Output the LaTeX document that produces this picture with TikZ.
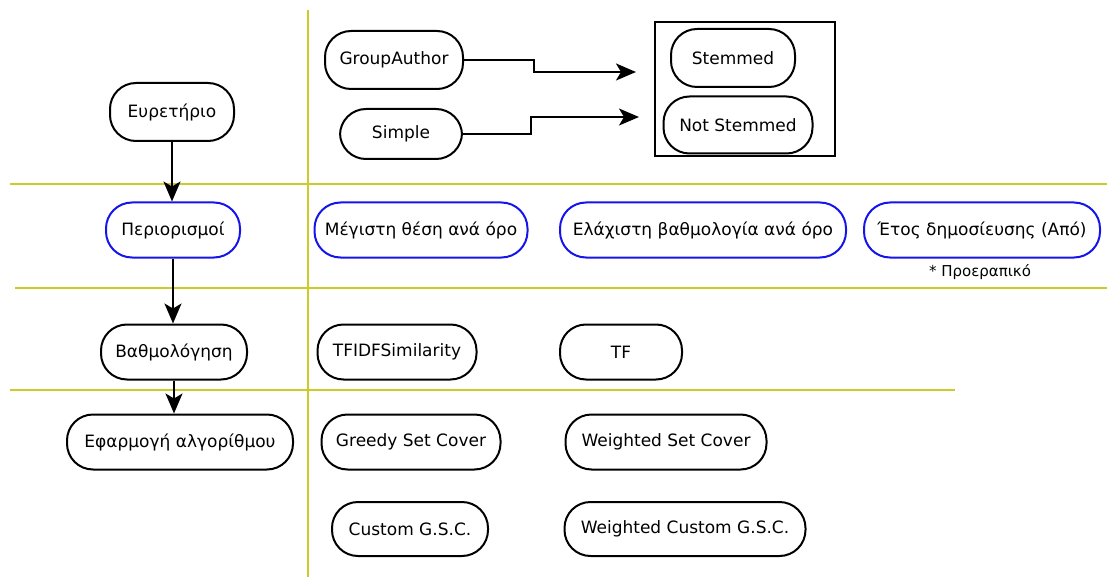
\documentclass[tikz,border=0pt]{standalone}
\usepackage{fontspec}
\setmainfont{DejaVu Sans}
\usetikzlibrary{arrows.meta}
\definecolor{lane}{RGB}{204,204,40}
\definecolor{blu}{RGB}{20,20,235}
\tikzset{
  pill/.style={draw=black, line width=2pt, rounded corners=26pt, fill=white,
    inner sep=0pt, font=\fontsize{17}{20}\selectfont},
  bpill/.style={pill, draw=blu},
  lanes/.style={draw=lane, line width=2.6pt},
  arr/.style={draw=black, line width=2pt, -{Stealth[length=20pt,width=17pt,inset=5pt]}},
  group/.style={draw=black, line width=2pt, inner sep=0pt},
  note/.style={font=\fontsize{15}{18}\selectfont, inner sep=0pt}
}
\begin{document}
\begin{tikzpicture}[x=1pt,y=-1pt]
\useasboundingbox (0,0) rectangle (1107,577);
% lanes
\coordinate (v1) at (308,10); \coordinate (v2) at (308,577);
\draw[lanes] (v1) -- (v2);
\coordinate (h1a) at (10,184); \coordinate (h1b) at (1107,184);
\coordinate (h2a) at (15,288); \coordinate (h2b) at (1107,288);
\coordinate (h3a) at (10,390); \coordinate (h3b) at (955,390);
\draw[lanes] (h1a) -- (h1b);
\draw[lanes] (h2a) -- (h2b);
\draw[lanes] (h3a) -- (h3b);
% left column
\node[pill, minimum width=124pt, minimum height=58pt] (eur) at (172,112) {Ευρετήριο};
\node[bpill, minimum width=134pt, minimum height=55pt] (per) at (173,230) {Περιορισμοί};
\node[pill, minimum width=146pt, minimum height=55pt] (vath) at (174,352) {Βαθμολόγηση};
\node[pill, minimum width=226pt, minimum height=55pt] (efar) at (180,442) {Εφαρμογή αλγορίθμου};
% top row
\node[pill, minimum width=138pt, minimum height=58pt] (ga) at (394,60) {GroupAuthor};
\node[pill, minimum width=122pt, minimum height=50pt] (simple) at (401,134) {Simple};
\node[group, minimum width=180pt, minimum height=134pt] (box) at (745,89) {};
\node[pill, minimum width=124pt, minimum height=58pt] (stem) at (733,58) {Stemmed};
\node[pill, minimum width=149pt, minimum height=57pt] (nstem) at (738,125) {Not Stemmed};
% restrictions
\node[bpill, minimum width=213pt, minimum height=55pt] (max) at (421,230) {Μέγιστη θέση ανά όρο};
\node[bpill, minimum width=286pt, minimum height=55pt] (min) at (703,230) {Ελάχιστη βαθμολογία ανά όρο};
\node[bpill, minimum width=236pt, minimum height=55pt] (etos) at (982,230) {Έτος δημοσίευσης (Από)};
\node[note] (opt) at (980,272) {* Προεραπικό};
% scoring
\node[pill, minimum width=159pt, minimum height=55pt] (tfidf) at (397,352) {TFIDFSimilarity};
\node[pill, minimum width=122pt, minimum height=55pt] (tf) at (621,352) {TF};
% algorithms
\node[pill, minimum width=179pt, minimum height=55pt] (gsc) at (411,442) {Greedy Set Cover};
\node[pill, minimum width=201pt, minimum height=55pt] (wsc) at (666,442) {Weighted Set Cover};
\node[pill, minimum width=156pt, minimum height=54pt] (cgsc) at (410,529) {Custom G.S.C.};
\node[pill, minimum width=241pt, minimum height=54pt] (wcgsc) at (685,529) {Weighted Custom G.S.C.};
% arrows
\draw[arr] (eur.south) -- (eur.south |- per.north);
\draw[arr] (per.south) -- (per.south |- vath.north);
\draw[arr] (vath.south) -- (vath.south |- efar.north);
\draw[arr, shorten >=18pt] (ga.east) -- ++(70,0) |- ([yshift=17pt]box.west);
\draw[arr, shorten >=15pt] (simple.east) -- ++(68,0) |- ([yshift=-28pt]box.west);
\end{tikzpicture}
\end{document}
